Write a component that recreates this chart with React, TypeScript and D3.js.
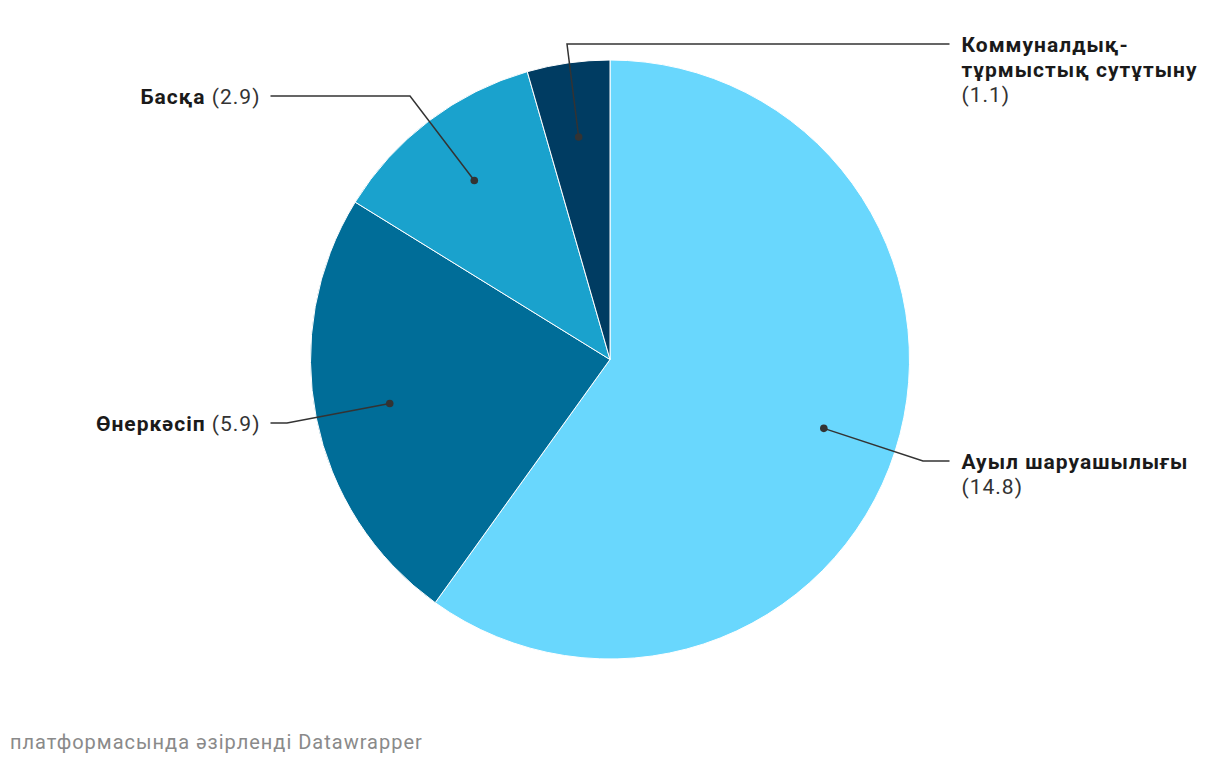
import React from "react";
import * as d3 from "d3";

const categories = ["Ауыл шаруашылығы", "Өнеркәсіп", "Басқа", "Коммуналдық-тұрмыстық сутұтыну"];
const values = [14.8, 5.9, 2.9, 1.1];
const valueLabels = ["14.8", "5.9", "2.9", "1.1"];
const colors = ["#69d7fd", "#006d98", "#1aa2cd", "#003c62"];
const labelLines = [["Ауыл шаруашылығы"], ["Өнеркәсіп"], ["Басқа"], ["Коммуналдық-", "тұрмыстық сутұтыну"]];

// layout: label side, label line y, elbow x
const labelSide = ["right", "left", "left", "right"];
const labelY = [461, 423, 96, 44];
const elbowX = [923, 287, 410, 567];

const W = 1220, H = 766;
const cx = 610, cy = 359.5, R = 299.5;

export default function App() {
  const pie = d3.pie<number>().sort(null).value((d) => d)(values);
  const arc = d3.arc<d3.PieArcDatum<number>>().innerRadius(0).outerRadius(R);
  const font = "Roboto, 'Noto Sans', sans-serif";
  return (
    <svg width={W} height={H} style={{ position: "absolute", left: 0, top: 0, background: "#fff" }} fontFamily={font}>
      <g transform={`translate(${cx},${cy})`}>
        {pie.map((p, i) => (
          <path key={i} d={arc(p) || ""} fill={colors[i]} stroke="#fff" strokeWidth={1} />
        ))}
      </g>
      {pie.map((p, i) => {
        const mid = (p.startAngle + p.endAngle) / 2;
        const dx = cx + Math.sin(mid) * R * 0.75;
        const dy = cy - Math.cos(mid) * R * 0.75;
        const right = labelSide[i] === "right";
        const ly = labelY[i];
        const lineEnd = right ? cx + R + 40 : cx - R - 40;
        const textX = right ? lineEnd + 12 : lineEnd - 10;
        const base = ly + 7.5;
        const lines = labelLines[i];
        return (
          <g key={i}>
            <polyline
              points={`${dx},${dy} ${elbowX[i]},${ly} ${lineEnd},${ly}`}
              fill="none"
              stroke="#333"
              strokeWidth={1.5}
            />
            <circle cx={dx} cy={dy} r={3.8} fill="#333" />
            {right ? (
              <text x={textX} y={base} fontSize={21} letterSpacing={1} fill="#1a1a1a" textAnchor="start">
                {lines.map((l, k) => (
                  <tspan key={k} x={textX} y={base + k * 25} fontWeight={700}>{l}</tspan>
                ))}
                <tspan x={textX} y={base + lines.length * 25} fontWeight={400} fill="#333">({valueLabels[i]})</tspan>
              </text>
            ) : (
              <text x={textX} y={base} fontSize={21} letterSpacing={1} fill="#1a1a1a" textAnchor="end">
                <tspan fontWeight={700}>{lines[0]}</tspan>
                <tspan fontWeight={400} fill="#333"> ({valueLabels[i]})</tspan>
              </text>
            )}
          </g>
        );
      })}
      <text x={10} y={749} fontSize={20} letterSpacing={1} fill="#8a8a8a">платформасында әзірленді Datawrapper</text>
    </svg>
  );
}
